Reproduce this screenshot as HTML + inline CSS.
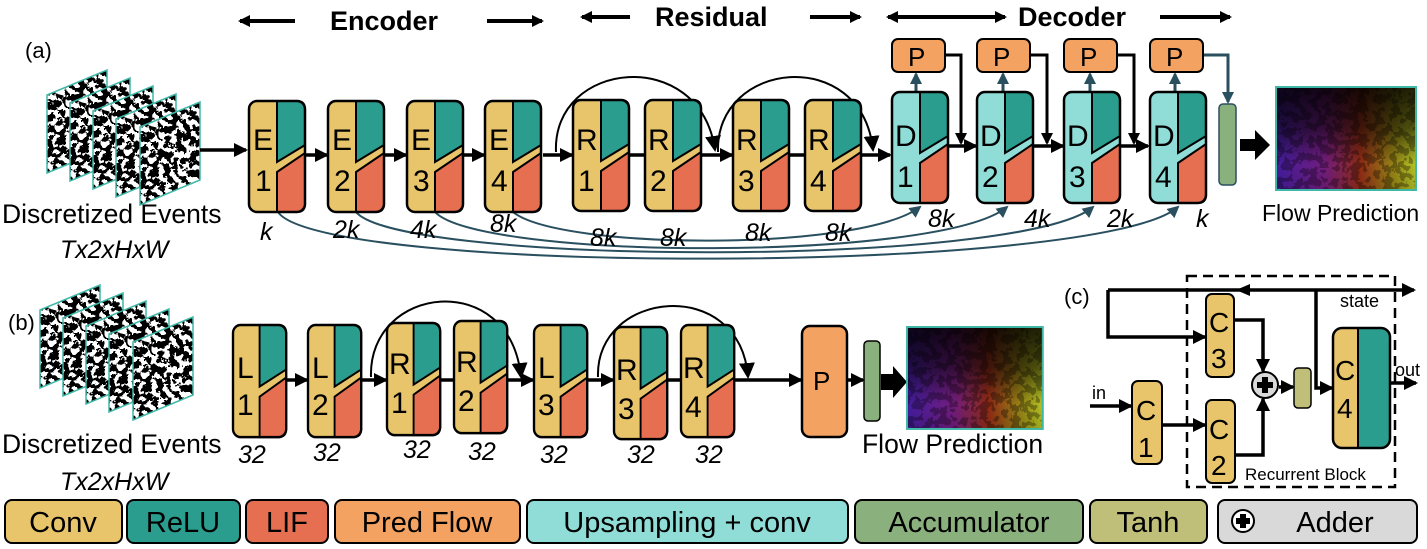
<!DOCTYPE html>
<html><head><meta charset="utf-8"><style>
html,body{margin:0;padding:0;background:#fff}
svg{display:block}
text{font-family:"Liberation Sans",sans-serif;fill:#000}
.it{font-style:italic}
</style></head><body>
<svg width="1427" height="549" viewBox="0 0 1427 549" xmlns="http://www.w3.org/2000/svg">
<defs>
<marker id="ah" markerWidth="14" markerHeight="14" refX="12" refY="7" orient="auto" markerUnits="userSpaceOnUse"><path d="M0,0 L14,7 L0,14 Z" fill="#000"/></marker>
<marker id="ahb" markerWidth="12" markerHeight="12" refX="10" refY="6" orient="auto" markerUnits="userSpaceOnUse"><path d="M0,0 L12,6 L0,12 Z" fill="#000"/></marker>
<marker id="ahs" markerWidth="16" markerHeight="16" refX="14" refY="8" orient="auto" markerUnits="userSpaceOnUse"><path d="M0,0 L16,8 L0,16 Z" fill="#000"/></marker>
<marker id="aht" markerWidth="12" markerHeight="12" refX="10" refY="6" orient="auto" markerUnits="userSpaceOnUse"><path d="M0,0 L12,6 L0,12 Z" fill="#2a4f5f"/></marker>
<filter id="noise" x="0" y="0" width="100%" height="100%" filterUnits="objectBoundingBox">
<feTurbulence type="fractalNoise" baseFrequency="0.16" numOctaves="3" seed="5" result="t"/>
<feColorMatrix in="t" type="matrix" values="0 0 0 0 0  0 0 0 0 0  0 0 0 0 0  2.2 0 0 0 -0.55" result="m"/>
<feComponentTransfer in="m" result="d"><feFuncA type="discrete" tableValues="0 1"/></feComponentTransfer>
<feComposite in="d" in2="SourceGraphic" operator="in"/>
</filter>
<filter id="noise2" x="0" y="0" width="100%" height="100%" filterUnits="objectBoundingBox">
<feTurbulence type="fractalNoise" baseFrequency="0.12" numOctaves="3" seed="2" result="t"/>
<feColorMatrix in="t" type="matrix" values="0 0 0 0 0  0 0 0 0 0  0 0 0 0 0  2.2 0 0 0 -0.6" result="m"/>
<feComponentTransfer in="m" result="d"><feFuncA type="discrete" tableValues="0 1"/></feComponentTransfer>
<feComposite in="d" in2="SourceGraphic" operator="in"/>
</filter>
<linearGradient id="fg" x1="0" x2="1" y1="0" y2="0">
<stop offset="0" stop-color="#4a20b0"/><stop offset="0.35" stop-color="#80208a"/><stop offset="0.6" stop-color="#a03018"/><stop offset="0.85" stop-color="#a89818"/><stop offset="1" stop-color="#c8d828"/></linearGradient>
<linearGradient id="fv" x1="0" x2="0" y1="0" y2="1"><stop offset="0" stop-color="#000" stop-opacity="0.85"/><stop offset="0.4" stop-color="#000" stop-opacity="0.6"/><stop offset="0.75" stop-color="#000" stop-opacity="0.1"/><stop offset="1" stop-color="#000" stop-opacity="0.2"/></linearGradient>
<g id="blk">
<rect x="0" y="0" width="56" height="111" rx="8" fill="#e8c46a"/>
<path d="M28,0 H48 Q56,0 56,8 V44 L28,61 Z" fill="#2a9d8f" stroke="#000" stroke-width="2"/>
<path d="M28,71 L56,52 V103 Q56,111 48,111 H28 Z" fill="#e76f51" stroke="#000" stroke-width="2"/>
<rect x="0" y="0" width="56" height="111" rx="8" fill="none" stroke="#000" stroke-width="2.5"/>
</g>
<g id="dblk">
<rect x="0" y="0" width="56" height="111" rx="8" fill="#90ddd8"/>
<path d="M28,0 H48 Q56,0 56,8 V44 L28,61 Z" fill="#2a9d8f" stroke="#000" stroke-width="2"/>
<path d="M28,71 L56,52 V103 Q56,111 48,111 H28 Z" fill="#e76f51" stroke="#000" stroke-width="2"/>
<rect x="0" y="0" width="56" height="111" rx="8" fill="none" stroke="#000" stroke-width="2.5"/>
</g>
<g id="frame">
<path d="M0,25 L60,0 L60,78 L0,103 Z" fill="#fff"/>
<path d="M0,25 L60,0 L60,78 L0,103 Z" fill="#000" filter="url(#noise)"/>
<path d="M0,25 L60,0 L60,78 L0,103 Z" fill="none" stroke="#3fb8a8" stroke-width="1.5"/>
</g>
<g id="flow">
<rect x="0" y="0" width="140" height="103" fill="url(#fg)"/>
<rect x="0" y="0" width="140" height="103" fill="url(#fv)"/>
<rect x="0" y="0" width="140" height="103" fill="#000" filter="url(#noise2)" opacity="0.3"/>
<rect x="0" y="0" width="140" height="103" fill="none" stroke="#3fb8a8" stroke-width="2"/>
</g>
</defs>

<!-- header -->
<g stroke="#000" stroke-width="4" fill="none">
<line x1="295" y1="21" x2="240" y2="21" marker-end="url(#ahb)"/>
<line x1="487" y1="21" x2="542" y2="21" marker-end="url(#ahb)"/>
<line x1="630" y1="17" x2="582" y2="17" marker-end="url(#ahb)"/>
<line x1="810" y1="17" x2="860" y2="17" marker-end="url(#ahb)"/>
<line x1="1000" y1="17" x2="888" y2="17" marker-end="url(#ahb)"/>
<line x1="895" y1="17" x2="1005" y2="17" marker-end="url(#ahb)"/>
<line x1="1160" y1="17" x2="1230" y2="17" marker-end="url(#ahb)"/>
</g>
<text x="330" y="30" font-size="27" font-weight="bold">Encoder</text>
<text x="655" y="26" font-size="27" font-weight="bold">Residual</text>
<text x="1018" y="26" font-size="27" font-weight="bold">Decoder</text>

<!-- (a) -->
<text x="25" y="58" font-size="22">(a)</text>
<use href="#frame" x="47" y="70"/><use href="#frame" x="70" y="78"/><use href="#frame" x="93" y="86"/><use href="#frame" x="116" y="94"/><use href="#frame" x="140" y="102"/>
<text x="2" y="223" font-size="26.5">Discretized Events</text>
<text x="60" y="258" font-size="25" class="it">Tx2xHxW</text>
<line x1="200" y1="150" x2="246" y2="150" stroke="#000" stroke-width="3.5" marker-end="url(#ah)"/>

<!-- skip curves -->
<g stroke="#2a4f5f" stroke-width="2" fill="none">
<path d="M513,212 C560,250 860,252 920,207" marker-end="url(#aht)"/>
<path d="M435,212 C480,260 940,262 1007,207" marker-end="url(#aht)"/>
<path d="M356,212 C400,265 1020,268 1093,207" marker-end="url(#aht)"/>
<path d="M278,212 C320,275 1100,275 1178,207" marker-end="url(#aht)"/>
</g>

<!-- main line arrows -->
<g stroke="#000" stroke-width="3.5" fill="none">
<line x1="306" y1="155" x2="327" y2="155" marker-end="url(#ah)"/>
<line x1="384" y1="155" x2="406" y2="155" marker-end="url(#ah)"/>
<line x1="463" y1="155" x2="484" y2="155" marker-end="url(#ah)"/>
<line x1="543" y1="155" x2="572" y2="155" marker-end="url(#ah)"/>
<line x1="630" y1="155" x2="645" y2="155"/>
<line x1="702" y1="155" x2="732" y2="155" marker-end="url(#ah)"/>
<line x1="789" y1="155" x2="805" y2="155"/>
<line x1="862" y1="155" x2="890" y2="155" marker-end="url(#ah)"/>
<line x1="948" y1="146" x2="976" y2="146" marker-end="url(#ah)"/>
<line x1="1033" y1="146" x2="1063" y2="146" marker-end="url(#ah)"/>
<line x1="1120" y1="146" x2="1148" y2="146" marker-end="url(#ah)"/>
</g>
<g stroke="#000" stroke-width="2" fill="none">
<path d="M556,152 C552,60 700,45 715,150" marker-end="url(#ahs)"/>
<path d="M718,152 C715,60 862,45 873,150" marker-end="url(#ahs)"/>
</g>
<!-- P feedback -->
<g stroke="#000" stroke-width="3" fill="none">
<path d="M945,55 H961 V143" marker-end="url(#ahb)"/>
<path d="M1030,55 H1047 V143" marker-end="url(#ahb)"/>
<path d="M1117,55 H1134 V143" marker-end="url(#ahb)"/>
</g>
<g stroke="#2a4f5f" stroke-width="3" fill="none">
<path d="M1203,55 H1228 V102" marker-end="url(#aht)"/>
<line x1="916" y1="92" x2="916" y2="74" marker-end="url(#aht)"/>
<line x1="1003" y1="92" x2="1003" y2="74" marker-end="url(#aht)"/>
<line x1="1090" y1="92" x2="1090" y2="74" marker-end="url(#aht)"/>
<line x1="1175" y1="92" x2="1175" y2="74" marker-end="url(#aht)"/>
</g>

<!-- blocks (a) -->
<use href="#blk" x="249" y="101"/><use href="#blk" x="328" y="101"/><use href="#blk" x="407" y="101"/><use href="#blk" x="485" y="101"/>
<use href="#blk" x="573" y="100"/><use href="#blk" x="645" y="100"/><use href="#blk" x="733" y="100"/><use href="#blk" x="805" y="100"/>
<use href="#dblk" x="892" y="92"/><use href="#dblk" x="977" y="92"/><use href="#dblk" x="1064" y="92"/><use href="#dblk" x="1150" y="92"/>
<g font-size="30">
<text x="253" y="150">E</text><text x="255" y="191">1</text>
<text x="332" y="150">E</text><text x="334" y="191">2</text>
<text x="411" y="150">E</text><text x="413" y="191">3</text>
<text x="489" y="150">E</text><text x="491" y="191">4</text>
<text x="576" y="150">R</text><text x="578" y="191">1</text>
<text x="648" y="150">R</text><text x="650" y="191">2</text>
<text x="736" y="150">R</text><text x="738" y="191">3</text>
<text x="808" y="150">R</text><text x="810" y="191">4</text>
<text x="895" y="146">D</text><text x="897" y="187">1</text>
<text x="980" y="146">D</text><text x="982" y="187">2</text>
<text x="1067" y="146">D</text><text x="1069" y="187">3</text>
<text x="1153" y="146">D</text><text x="1155" y="187">4</text>
</g>
<g font-size="25" class="it">
<text x="260" y="240">k</text><text x="333" y="238">2k</text><text x="410" y="238">4k</text><text x="490" y="232">8k</text>
<text x="590" y="246">8k</text><text x="660" y="246">8k</text><text x="745" y="241">8k</text><text x="825" y="241">8k</text>
<text x="928" y="227">8k</text><text x="1024" y="227">4k</text><text x="1107" y="227">2k</text><text x="1196" y="227">k</text>
</g>
<!-- P boxes -->
<g fill="#f4a261" stroke="#000" stroke-width="2">
<rect x="892" y="39" width="53" height="33" rx="6"/><rect x="977" y="39" width="53" height="33" rx="6"/>
<rect x="1064" y="39" width="53" height="33" rx="6"/><rect x="1150" y="39" width="53" height="33" rx="6"/>
</g>
<g font-size="26"><text x="908" y="66">P</text><text x="993" y="66">P</text><text x="1080" y="66">P</text><text x="1166" y="66">P</text></g>
<rect x="1219" y="104" width="17" height="81" rx="4" fill="#8ab17d" stroke="#2a4f5f" stroke-width="1.5"/>
<path d="M1240,139 H1255 V130 L1270,145 L1255,160 V151 H1240 Z" fill="#000"/>
<use href="#flow" x="1276" y="87"/>
<text x="1262" y="221" font-size="23">Flow Prediction</text>

<!-- (b) -->
<text x="8" y="330" font-size="22">(b)</text>
<use href="#frame" x="40" y="285"/><use href="#frame" x="63" y="293"/><use href="#frame" x="86" y="301"/><use href="#frame" x="109" y="309"/><use href="#frame" x="133" y="317"/>
<text x="2" y="453" font-size="26.5">Discretized Events</text>
<text x="60" y="490" font-size="25" class="it">Tx2xHxW</text>
<g stroke="#000" stroke-width="3.5" fill="none">
<line x1="286" y1="380" x2="307" y2="380" marker-end="url(#ah)"/>
<line x1="361" y1="380" x2="386" y2="380" marker-end="url(#ah)"/>
<line x1="440" y1="380" x2="454" y2="380"/>
<line x1="507" y1="380" x2="533" y2="380" marker-end="url(#ah)"/>
<line x1="587" y1="380" x2="613" y2="380" marker-end="url(#ah)"/>
<line x1="667" y1="380" x2="681" y2="380"/>
<line x1="734" y1="380" x2="801" y2="380" marker-end="url(#ah)"/>
<line x1="847" y1="380" x2="863" y2="380" marker-end="url(#ah)"/>
</g>
<g stroke="#000" stroke-width="2" fill="none">
<path d="M371,377 C368,285 510,268 521,377" marker-end="url(#ahs)"/>
<path d="M598,377 C595,290 740,275 748,377" marker-end="url(#ahs)"/>
</g>
<g transform="translate(233,325) scale(0.95,1.01)"><use href="#blk"/></g>
<g transform="translate(308,325) scale(0.95,1.01)"><use href="#blk"/></g>
<g transform="translate(387,323) scale(0.95,1.01)"><use href="#blk"/></g>
<g transform="translate(454,321) scale(0.95,1.01)"><use href="#blk"/></g>
<g transform="translate(534,325) scale(0.95,1.01)"><use href="#blk"/></g>
<g transform="translate(614,327) scale(0.95,1.01)"><use href="#blk"/></g>
<g transform="translate(681,325) scale(0.95,1.01)"><use href="#blk"/></g>
<g font-size="30">
<text x="237" y="378">L</text><text x="237" y="415">1</text>
<text x="312" y="378">L</text><text x="312" y="415">2</text>
<text x="389" y="374">R</text><text x="391" y="413">1</text>
<text x="456" y="372">R</text><text x="458" y="411">2</text>
<text x="538" y="378">L</text><text x="538" y="415">3</text>
<text x="616" y="380">R</text><text x="618" y="419">3</text>
<text x="683" y="378">R</text><text x="685" y="417">4</text>
</g>
<g font-size="25" class="it">
<text x="238" y="463">32</text><text x="313" y="461">32</text><text x="403" y="458">32</text><text x="468" y="460">32</text>
<text x="540" y="463">32</text><text x="627" y="463">32</text><text x="695" y="463">32</text>
</g>
<rect x="802" y="326" width="45" height="111" rx="8" fill="#f4a261" stroke="#000" stroke-width="2.5"/>
<text x="813" y="390" font-size="26">P</text>
<rect x="864" y="341" width="16" height="80" rx="4" fill="#8ab17d" stroke="#000" stroke-width="1.5"/>
<path d="M881,374 H893 V366 L907,382 L893,398 V390 H881 Z" fill="#000"/>
<g transform="translate(907,327) scale(0.97,0.99)"><use href="#flow"/></g>
<text x="862" y="453" font-size="26.5">Flow Prediction</text>

<!-- (c) -->
<text x="1064" y="304" font-size="22">(c)</text>
<rect x="1187" y="276" width="208" height="211" fill="none" stroke="#000" stroke-width="2.5" stroke-dasharray="10,6"/>
<g stroke="#000" stroke-width="3.5" fill="none">
<line x1="1108" y1="290" x2="1414" y2="290" marker-end="url(#ah)"/>
<path d="M1316,290 V388 H1332" marker-end="url(#ah)"/>
<path d="M1108,290 V337 H1205" marker-end="url(#ah)"/>
<path d="M1234,320 H1263 V371" marker-end="url(#ah)"/>
<path d="M1235,455 H1263 V399" marker-end="url(#ah)"/>
<line x1="1162" y1="425" x2="1205" y2="425" marker-end="url(#ah)"/>
<line x1="1090" y1="406" x2="1131" y2="406" marker-end="url(#ah)"/>
<line x1="1279" y1="387" x2="1293" y2="387" marker-end="url(#ah)"/>
<line x1="1390" y1="383" x2="1416" y2="383" marker-end="url(#ah)"/>
</g>
<path d="M1236,290 L1250,284 L1250,296 Z" fill="#000"/>
<rect x="1206" y="294" width="28" height="83" rx="6" fill="#e8c46a" stroke="#000" stroke-width="2"/>
<rect x="1206" y="400" width="29" height="83" rx="6" fill="#e8c46a" stroke="#000" stroke-width="2"/>
<rect x="1132" y="381" width="30" height="83" rx="6" fill="#e8c46a" stroke="#000" stroke-width="2"/>
<circle cx="1265" cy="385" r="13" fill="#d9d9d9" stroke="#000" stroke-width="2"/>
<path d="M1262,377 h6 v5 h5 v6 h-5 v5 h-6 v-5 h-5 v-6 h5 Z" fill="#000"/>
<rect x="1294" y="368" width="17" height="40" rx="4" fill="#bfbf7a" stroke="#000" stroke-width="1.5"/>
<rect x="1333" y="328" width="57" height="120" rx="9" fill="#2a9d8f"/>
<path d="M1342,328 H1358 V448 H1342 Q1333,448 1333,439 V337 Q1333,328 1342,328 Z" fill="#e8c46a"/>
<line x1="1358" y1="328" x2="1358" y2="448" stroke="#000" stroke-width="2"/>
<rect x="1333" y="328" width="57" height="120" rx="9" fill="none" stroke="#000" stroke-width="2.5"/>
<g font-size="28">
<text x="1209" y="332">C</text><text x="1211" y="368">3</text>
<text x="1209" y="439">C</text><text x="1211" y="475">2</text>
<text x="1136" y="420">C</text><text x="1138" y="457">1</text>
<text x="1335" y="380">C</text><text x="1337" y="418">4</text>
</g>
<text x="1340" y="307" font-size="18">state</text>
<text x="1395" y="376" font-size="18">out</text>
<text x="1092" y="399" font-size="18">in</text>
<text x="1245" y="480" font-size="17">Recurrent Block</text>

<!-- legend -->
<g stroke="#000" stroke-width="2">
<rect x="5" y="500" width="117" height="43" rx="7" fill="#e8c46a"/>
<rect x="127" y="500" width="113" height="43" rx="7" fill="#2a9d8f"/>
<rect x="246" y="500" width="82" height="43" rx="7" fill="#e76f51"/>
<rect x="335" y="500" width="185" height="43" rx="7" fill="#f4a261"/>
<rect x="527" y="500" width="321" height="43" rx="7" fill="#90ddd8"/>
<rect x="855" y="500" width="228" height="43" rx="7" fill="#8ab17d"/>
<rect x="1090" y="500" width="117" height="43" rx="7" fill="#bfbf7a"/>
<rect x="1218" y="500" width="199" height="43" rx="7" fill="#d9d9d9"/>
</g>
<g font-size="29" text-anchor="middle">
<text x="63" y="532">Conv</text>
<text x="183" y="532">ReLU</text>
<text x="287" y="532">LIF</text>
<text x="427" y="532">Pred Flow</text>
<text x="687" y="532">Upsampling + conv</text>
<text x="969" y="532">Accumulator</text>
<text x="1148" y="532">Tanh</text>
<text x="1335" y="532">Adder</text>
</g>
<circle cx="1243" cy="521" r="11" fill="#fff" stroke="#000" stroke-width="2"/>
<path d="M1240,514 h6 v4 h4 v6 h-4 v4 h-6 v-4 h-4 v-6 h4 Z" fill="#000"/>
</svg>
</body></html>
